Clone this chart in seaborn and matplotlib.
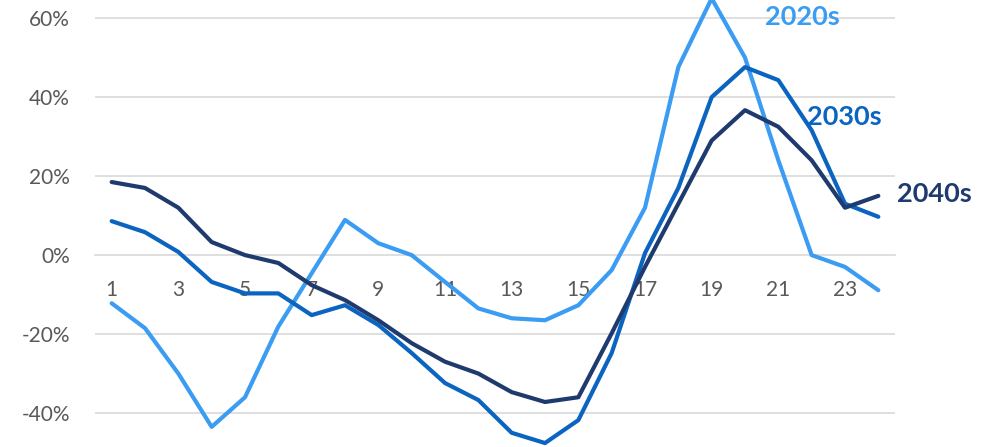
import matplotlib
matplotlib.use("Agg")
import matplotlib.pyplot as plt
import seaborn as sns
import pandas as pd
import numpy as np

hours = list(range(1, 25))
s2020 = [-12.2, -18.5, -30.0, -43.5, -36.0, -18.1, -4.6, 8.9, 3.0, 0.0, -6.8, -13.5,
         -16.0, -16.5, -12.7, -3.8, 12.0, 47.6, 65.0, 50.0, 24.0, 0.0, -3.0, -8.9]
s2030 = [8.6, 5.8, 0.8, -6.8, -9.7, -9.7, -15.2, -12.7, -17.7, -24.8, -32.4, -36.7,
         -45.0, -47.6, -41.8, -24.8, 0.5, 17.0, 40.0, 47.6, 44.3, 31.6, 13.0, 9.7]
s2040 = [18.5, 17.0, 12.0, 3.3, 0.0, -2.0, -7.6, -11.4, -16.5, -22.3, -27.0, -30.0,
         -34.7, -37.2, -36.0, -19.8, -3.0, 13.0, 29.0, 36.7, 32.5, 24.0, 12.0, 15.0]
series_names = ["2020s", "2030s", "2040s"]
colors = {"2020s": "#3A9CF2", "2030s": "#0A64C0", "2040s": "#1F3A6E"}
ytick_vals = [-40, -20, 0, 20, 40, 60]
xtick_labels = [str(h) for h in range(1, 24, 2)]

df = pd.DataFrame({
    "hour": hours * 3,
    "value": s2020 + s2030 + s2040,
    "series": ["2020s"] * 24 + ["2030s"] * 24 + ["2040s"] * 24,
})

sns.set_theme(style="white")
plt.rcParams["font.family"] = ["Lato", "DejaVu Sans"]

fig = plt.figure(figsize=(9.91, 4.47), dpi=100)
ax = fig.add_axes([95 / 991, 0.0, 800 / 991, 1.0])

sns.lineplot(data=df, x="hour", y="value", hue="series", palette=colors,
             hue_order=series_names, linewidth=3.0, legend=False, ax=ax,
             solid_capstyle="round", solid_joinstyle="round", zorder=3)

ax.set_xlim(0.5, 24.5)
ax.set_ylim(-48.6, 64.6)

# gridlines
for v in ytick_vals:
    if v != 0:
        ax.axhline(v, color="#D9D9D9", linewidth=1.2, zorder=1)

for s in ["top", "right", "left"]:
    ax.spines[s].set_visible(False)
ax.spines["bottom"].set_position(("data", 0))
ax.spines["bottom"].set_color("#D9D9D9")
ax.spines["bottom"].set_linewidth(1.2)
ax.spines["bottom"].set_zorder(1)

ax.set_yticks(ytick_vals)
ax.set_yticklabels([f"{v}%" for v in ytick_vals])
ax.tick_params(axis="y", length=0, pad=18, labelsize=15, labelcolor="#595959")

ax.set_xticks(list(range(1, 24, 2)))
ax.set_xticklabels(xtick_labels)
ax.set_xticks(np.arange(0.5, 25, 2.0), minor=True)
ax.tick_params(axis="x", which="major", length=0, pad=18, labelsize=15, labelcolor="#595959")
ax.tick_params(axis="x", which="minor", length=5, width=1.2, color="#D9D9D9", direction="out")

ax.set_xlabel("")
ax.set_ylabel("")

ax.text(20.6, 60.3, "2020s", color=colors["2020s"], fontsize=19.5, fontweight="bold",
        va="center", ha="left", clip_on=False)
ax.text(21.86, 34.9, "2030s", color=colors["2030s"], fontsize=19.5, fontweight="bold",
        va="center", ha="left", clip_on=False)
ax.text(24.56, 15.4, "2040s", color=colors["2040s"], fontsize=19.5, fontweight="bold",
        va="center", ha="left", clip_on=False)

fig.savefig("out.png", dpi=100)
